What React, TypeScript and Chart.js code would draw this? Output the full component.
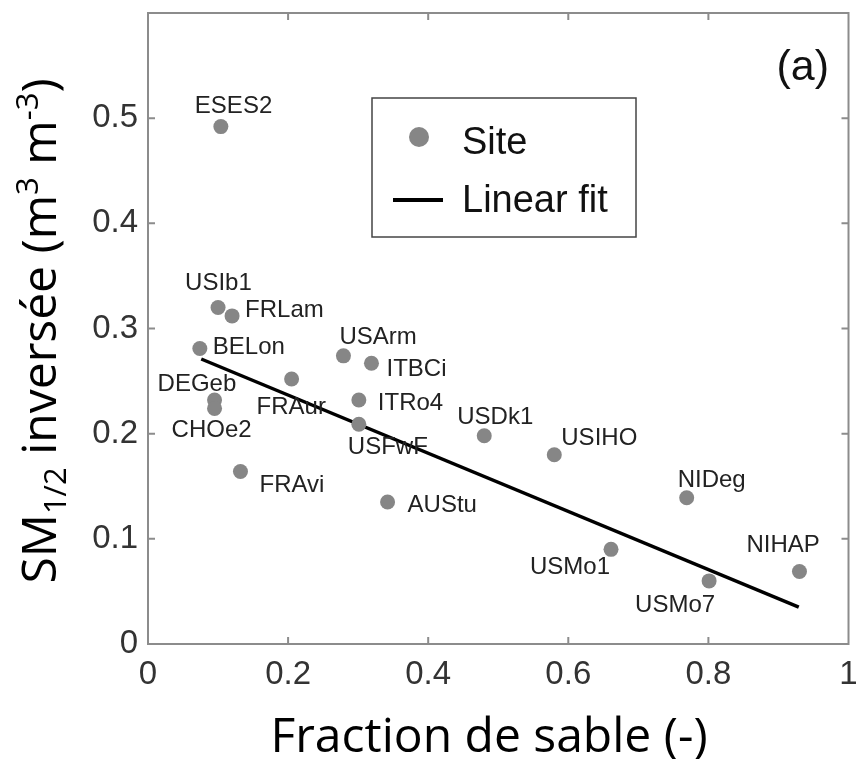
import React, { useEffect, useRef } from 'react';
import { Chart, registerables } from 'chart.js';

Chart.register(...registerables);

// ---------- data ----------
const siteNames = [
  'ESES2', 'USIb1', 'FRLam', 'BELon', 'DEGeb', 'CHOe2', 'FRAur', 'FRAvi', 'USArm', 'ITBCi',
  'ITRo4', 'USFwF', 'AUStu', 'USDk1', 'USIHO', 'USMo1', 'NIDeg', 'USMo7', 'NIHAP',
];
const sandFraction = [
  0.104, 0.100, 0.120, 0.074, 0.095, 0.095, 0.205, 0.132, 0.279, 0.319,
  0.301, 0.301, 0.342, 0.480, 0.580, 0.661, 0.769, 0.801, 0.930,
];
const smHalf = [
  0.492, 0.320, 0.312, 0.281, 0.232, 0.224, 0.252, 0.164, 0.274, 0.267,
  0.232, 0.209, 0.135, 0.198, 0.180, 0.090, 0.139, 0.060, 0.069,
];
const fitSand = [0.076, 0.929];
const fitSm = [0.271, 0.035];

const xTicks = [0, 0.2, 0.4, 0.6, 0.8, 1];
const xTickLabels = ['0', '0.2', '0.4', '0.6', '0.8', '1'];
const yTicks = [0, 0.1, 0.2, 0.3, 0.4, 0.5];
const yTickLabels = ['0', '0.1', '0.2', '0.3', '0.4', '0.5'];
const yMax = 0.6;

// ---------- styles (label placement relative to each point: left, baseline) ----------
const labelOffsets: [number, number][] = [
  [-26, -14], [-33, -17], [13, 1], [13, 6], [-57, -9], [-43, 29], [-35, 35], [19, 20], [-4, -12], [15, 13],
  [19, 10], [-11, 30], [20, 10], [-27, -12], [7, -10], [-81, 25], [-9, -11], [-74, 31], [-53, -19],
];

const W = 856;
const H = 759;
const FRAME = '#8c8c8c';
const POINT = '#868686';

const overlay = {
  id: 'overlay',
  afterDraw(chart: any) {
    const { ctx, chartArea: a, scales } = chart;
    const xs = scales.x;
    const ys = scales.y;
    ctx.save();

    // frame + inward ticks
    ctx.strokeStyle = FRAME;
    ctx.lineWidth = 2;
    ctx.strokeRect(a.left, a.top, a.right - a.left, a.bottom - a.top);
    ctx.beginPath();
    xTicks.forEach((v) => {
      if (v <= 0 || v >= 1) return;
      const px = xs.getPixelForValue(v);
      ctx.moveTo(px, a.bottom);
      ctx.lineTo(px, a.bottom - 7);
      ctx.moveTo(px, a.top);
      ctx.lineTo(px, a.top + 7);
    });
    yTicks.forEach((v) => {
      if (v <= 0) return;
      const py = ys.getPixelForValue(v);
      ctx.moveTo(a.left, py);
      ctx.lineTo(a.left + 7, py);
      ctx.moveTo(a.right, py);
      ctx.lineTo(a.right - 7, py);
    });
    ctx.stroke();

    // point labels
    ctx.font = '24px "Liberation Sans"';
    ctx.fillStyle = '#222';
    ctx.textAlign = 'left';
    ctx.textBaseline = 'alphabetic';
    siteNames.forEach((n, i) => {
      const px = xs.getPixelForValue(sandFraction[i]);
      const py = ys.getPixelForValue(smHalf[i]);
      const [dx, dy] = labelOffsets[i];
      ctx.fillText(n, px + dx, py + dy);
    });

    // legend box
    const lx = a.left + 224;
    const ly = a.top + 85;
    ctx.fillStyle = '#fff';
    ctx.fillRect(lx, ly, 264, 139);
    ctx.strokeStyle = '#444';
    ctx.lineWidth = 1.5;
    ctx.strokeRect(lx, ly, 264, 139);
    ctx.fillStyle = POINT;
    ctx.beginPath();
    ctx.arc(lx + 47, ly + 39, 10, 0, Math.PI * 2);
    ctx.fill();
    ctx.strokeStyle = '#000';
    ctx.lineWidth = 4;
    ctx.beginPath();
    ctx.moveTo(lx + 21, ly + 102);
    ctx.lineTo(lx + 71, ly + 102);
    ctx.stroke();
    ctx.fillStyle = '#111';
    ctx.font = '38px "Liberation Sans"';
    ctx.fillText('Site', lx + 90, ly + 56);
    ctx.fillText('Linear fit', lx + 90, ly + 114);

    // panel letter
    ctx.font = '43px "Liberation Sans"';
    ctx.textAlign = 'right';
    ctx.fillText('(a)', 829, 80);

    // x axis title
    ctx.fillStyle = '#000';
    ctx.font = '48px "Open Sans"';
    ctx.textAlign = 'center';
    ctx.fillText('Fraction de sable (-)', 489, 752);

    // y axis title with sub/superscripts
    const big = '48px "Open Sans"';
    const small = '31px "Open Sans"';
    const parts: [string, string, number][] = [
      ['SM', big, 0],
      ['1/2', small, 10],
      [' inversée (m', big, 0],
      ['3', small, -18],
      [' m', big, 0],
      ['-3', small, -18],
      [')', big, 0],
    ];
    let total = 0;
    parts.forEach(([t, f]) => {
      ctx.font = f;
      total += ctx.measureText(t).width;
    });
    ctx.translate(56, 331);
    ctx.rotate(-Math.PI / 2);
    ctx.textAlign = 'left';
    let cx = -total / 2;
    parts.forEach(([t, f, dy]) => {
      ctx.font = f;
      ctx.fillText(t, cx, dy);
      cx += ctx.measureText(t).width;
    });

    ctx.restore();
  },
};

export default function App() {
  const ref = useRef<HTMLCanvasElement | null>(null);

  useEffect(() => {
    if (!ref.current) return;
    const sitePoints = sandFraction.map((x, i) => ({ x, y: smHalf[i] }));
    const fitPoints = fitSand.map((x, i) => ({ x, y: fitSm[i] }));
    const tickFont = { family: '"Liberation Sans"', size: 33 };
    const chart = new Chart(ref.current, {
      type: 'scatter',
      data: {
        datasets: [
          {
            label: 'Linear fit',
            data: fitPoints,
            showLine: true,
            borderColor: '#000',
            borderWidth: 3.5,
            pointRadius: 0,
            order: 2,
          } as any,
          {
            label: 'Site',
            data: sitePoints,
            backgroundColor: POINT,
            borderWidth: 0,
            pointRadius: 7.5,
            order: 1,
          },
        ],
      },
      options: {
        responsive: false,
        animation: false,
        devicePixelRatio: 1,
        layout: { padding: { top: 13, right: 6, left: 0, bottom: 0 } },
        plugins: { legend: { display: false }, tooltip: { enabled: false } },
        scales: {
          x: {
            type: 'linear',
            min: 0,
            max: 1,
            grid: { display: false },
            border: { display: false },
            afterBuildTicks: (s: any) => {
              s.ticks = xTicks.map((v) => ({ value: v }));
            },
            afterFit: (s: any) => {
              s.height = 115;
              s.paddingLeft = 0;
              s.paddingRight = 0;
            },
            ticks: {
              font: tickFont,
              color: '#333',
              padding: 3,
              maxRotation: 0,
              autoSkip: false,
              callback: (_v: any, i: number) => xTickLabels[i],
            },
          },
          y: {
            type: 'linear',
            min: 0,
            max: yMax,
            grid: { display: false },
            border: { display: false },
            afterBuildTicks: (s: any) => {
              s.ticks = yTicks.map((v) => ({ value: v }));
            },
            afterFit: (s: any) => {
              s.width = 148;
              s.paddingTop = 0;
              s.paddingBottom = 0;
            },
            ticks: {
              font: tickFont,
              color: '#333',
              padding: 2,
              autoSkip: false,
              callback: (_v: any, i: number) => yTickLabels[i],
            },
          },
        },
      },
      plugins: [overlay],
    });
    return () => chart.destroy();
  }, []);

  return (
    <div style={{ position: 'fixed', left: 0, top: 0, width: W, height: H, background: '#fff' }}>
      <canvas ref={ref} width={W} height={H} style={{ width: W, height: H, display: 'block' }} />
    </div>
  );
}
